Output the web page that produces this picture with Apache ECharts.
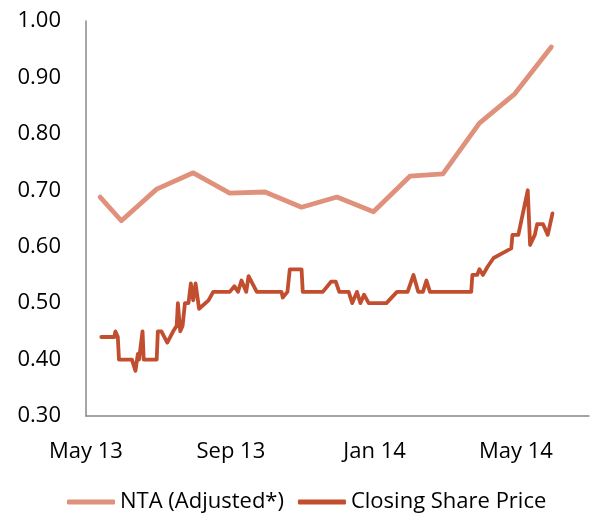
<!DOCTYPE html>
<html>
<head>
<meta charset="utf-8">
<script src="https://cdn.jsdelivr.net/npm/echarts@6/dist/echarts.min.js"></script>
<style>
html,body{margin:0;padding:0;background:#fff;}
#chart{width:591px;height:518px;}
</style>
</head>
<body>
<div id="chart"></div>
<script>
// ---- data ----
var ntaDates = ['2013-05-13','2013-05-31','2013-06-30','2013-07-31','2013-08-31','2013-09-30','2013-10-31','2013-11-30','2013-12-31','2014-01-31','2014-02-28','2014-03-31','2014-04-30','2014-05-31'];
var ntaValues = [0.688,0.646,0.702,0.731,0.695,0.697,0.670,0.688,0.662,0.725,0.729,0.819,0.871,0.954];

var priceDates = ['2013-05-14','2013-05-25','2013-05-26','2013-05-28','2013-05-29','2013-06-09','2013-06-12','2013-06-14','2013-06-15','2013-06-18','2013-06-19','2013-06-30','2013-07-01','2013-07-04','2013-07-09','2013-07-14','2013-07-17','2013-07-18','2013-07-20','2013-07-22','2013-07-24','2013-07-27','2013-07-29','2013-07-31','2013-08-02','2013-08-05','2013-08-13','2013-08-17','2013-08-31','2013-09-04','2013-09-07','2013-09-10','2013-09-14','2013-09-16','2013-09-23','2013-10-14','2013-10-15','2013-10-19','2013-10-21','2013-10-31','2013-11-01','2013-11-18','2013-11-25','2013-11-29','2013-12-02','2013-12-10','2013-12-13','2013-12-17','2013-12-20','2013-12-23','2013-12-27','2014-01-11','2014-01-20','2014-01-29','2014-02-03','2014-02-07','2014-02-11','2014-02-14','2014-02-17','2014-03-24','2014-03-25','2014-03-29','2014-03-31','2014-04-03','2014-04-07','2014-04-12','2014-04-20','2014-04-27','2014-04-28','2014-05-03','2014-05-11','2014-05-13','2014-05-17','2014-05-19','2014-05-24','2014-05-28','2014-06-01'];
var priceValues = [0.44,0.44,0.45,0.44,0.40,0.40,0.38,0.41,0.40,0.45,0.40,0.40,0.45,0.45,0.43,0.45,0.46,0.50,0.45,0.46,0.50,0.50,0.535,0.505,0.535,0.49,0.505,0.52,0.52,0.53,0.52,0.54,0.52,0.548,0.52,0.52,0.51,0.52,0.56,0.56,0.52,0.52,0.538,0.538,0.52,0.52,0.50,0.52,0.50,0.515,0.50,0.50,0.52,0.52,0.55,0.52,0.52,0.54,0.52,0.52,0.55,0.55,0.56,0.55,0.565,0.58,0.589,0.597,0.621,0.621,0.70,0.603,0.621,0.64,0.64,0.621,0.659];

var xTickDates = ['2013-05-01','2013-09-01','2014-01-01','2014-05-01'];
var xTickLabels = ['May 13','Sep 13','Jan 14','May 14'];
var xRange = ['2013-05-01','2014-07-02'];
var seriesNames = ['NTA (Adjusted*)','Closing Share Price'];

function t(s){ return Date.parse(s + 'T00:00:00Z'); }
function pairs(d, v){ return d.map(function(x,i){ return [t(x), v[i]]; }); }
var tickTimes = xTickDates.map(t);

var FONT = 'Open Sans';
var chart = echarts.init(document.getElementById('chart'));
chart.setOption({
  animation: false,
  backgroundColor: '#ffffff',
  grid: { left: 86, right: 2, top: 21, bottom: 102, containLabel: false },
  legend: {
    left: 62, top: 486,
    icon: 'roundRect',
    itemWidth: 48, itemHeight: 5, itemGap: 14,
    textStyle: { fontFamily: FONT, fontSize: 22, color: '#000' },
    data: seriesNames
  },
  xAxis: {
    type: 'value',
    min: t(xRange[0]), max: t(xRange[1]),
    axisLine: { show: true, lineStyle: { color: '#888888', width: 1.5 } },
    axisTick: { show: false },
    splitLine: { show: false },
    axisLabel: {
      customValues: tickTimes,
      margin: 25,
      fontFamily: FONT, fontSize: 22, color: '#000',
      formatter: function(v){
        var best = 0, bd = Infinity;
        for (var i = 0; i < tickTimes.length; i++) { var dd = Math.abs(tickTimes[i] - v); if (dd < bd) { bd = dd; best = i; } }
        return xTickLabels[best];
      }
    }
  },
  yAxis: {
    type: 'value', min: 0.3, max: 1.0, interval: 0.1,
    axisLine: { show: true, lineStyle: { color: '#888888', width: 1.5 } },
    axisTick: { show: false },
    splitLine: { show: false },
    axisLabel: {
      margin: 25, fontFamily: FONT, fontSize: 22, color: '#000',
      formatter: function(v){ return v.toFixed(2); }
    }
  },
  series: [
    {
      name: seriesNames[0], type: 'line', data: pairs(ntaDates, ntaValues),
      symbol: 'none', color: '#E0917B',
      lineStyle: { width: 4.8, color: '#E0917B', join: 'round', cap: 'round' }
    },
    {
      name: seriesNames[1], type: 'line', data: pairs(priceDates, priceValues),
      symbol: 'none', color: '#C14F2F',
      lineStyle: { width: 3.8, color: '#C14F2F', join: 'round', cap: 'round' }
    }
  ]
});
</script>
</body>
</html>
